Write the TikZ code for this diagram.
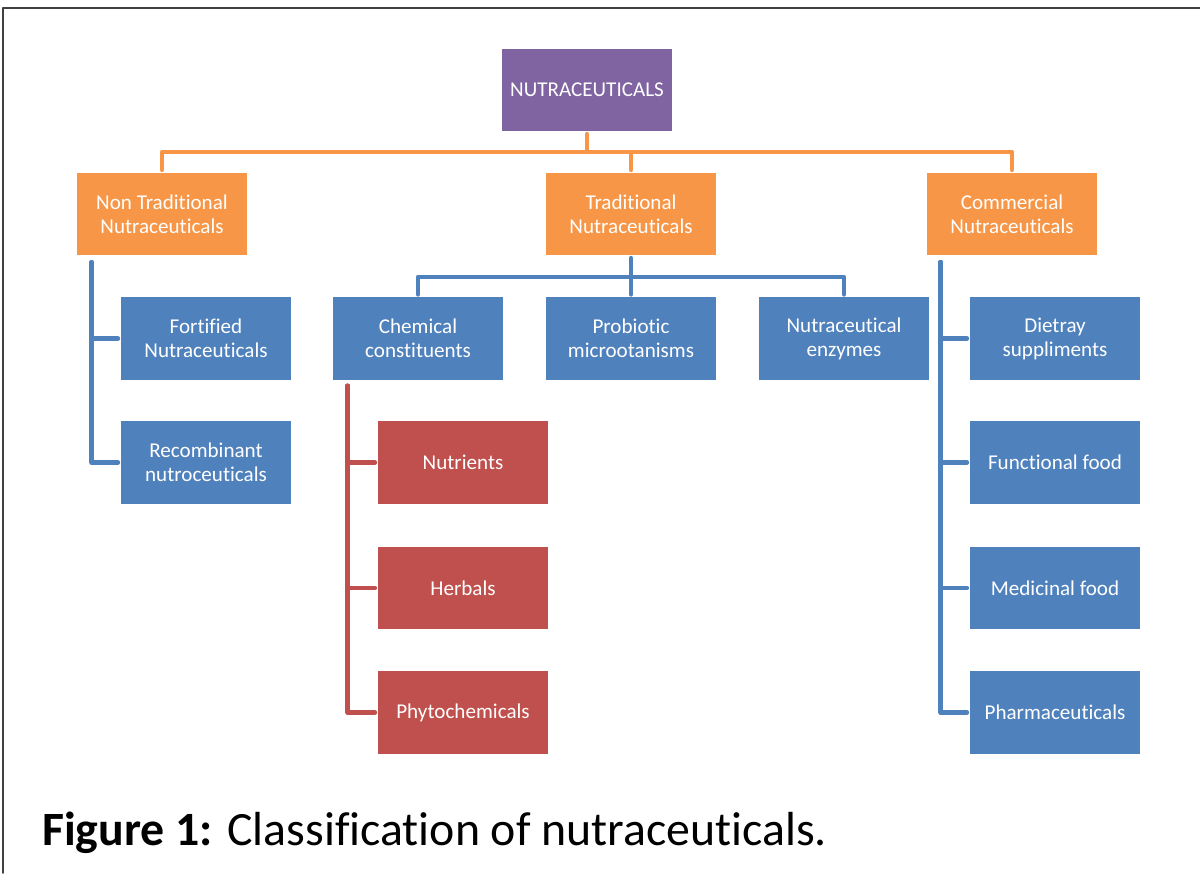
\documentclass[tikz,border=0pt]{standalone}
\usepackage{fontspec}
\setmainfont[Ligatures=NoCommon]{Carlito}
\definecolor{nutpurple}{HTML}{8064A2}
\definecolor{nutorange}{HTML}{F79646}
\definecolor{nutblue}{HTML}{4F81BD}
\definecolor{nutred}{HTML}{C0504D}
\begin{document}
\begin{tikzpicture}[x=0.025cm, y=-0.025cm, line join=round, line cap=round,
		box/.style={minimum width=4.25cm, minimum height=2.05cm, inner sep=0pt, align=center, text=white, font=\fontsize{15}{17}\selectfont},
		link/.style={line width=3.2pt, shorten >=2pt}]
	\useasboundingbox (0,0) rectangle (1200,873);
	\draw[line width=1.2pt, black!75] (3,873)--(3,8)--(1200,8);
	% boxes
	\node[box, fill=nutpurple] (root) at (587,90) {NUTRACEUTICALS};
	\foreach \n/\x/\t in {nontrad/162/{Non Traditional\\Nutraceuticals}, trad/631/{Traditional\\Nutraceuticals}, comm/1012/{Commercial\\Nutraceuticals}}
		\node[box, fill=nutorange] (\n) at (\x,214) {\t};
	\foreach \n/\x/\y/\t in {fort/206/338.5/{Fortified\\Nutraceuticals}, recomb/206/462.5/{Recombinant\\nutroceuticals},
		chem/418/338.5/{Chemical\\constituents}, prob/631/338.5/{Probiotic\\microotanisms}, enz/844/338.5/{Nutraceutical\\enzymes},
		diet/1055/338.5/{Dietray\\suppliments}, func/1055/462.5/{Functional food}, med/1055/588/{Medicinal food}, pharm/1055/712.5/{Pharmaceuticals}}
		\node[box, fill=nutblue] (\n) at (\x,\y) {\t};
	\foreach \n/\y/\t in {nutr/462.5/{Nutrients}, herb/588/{Herbals}, phyto/712.5/{Phytochemicals}}
		\node[box, fill=nutred] (\n) at (463,\y) {\t};
	% connectors
	\coordinate (topbus) at (587,152);
	\coordinate (midbus) at (631,277);
	\draw[link, nutorange, shorten <=2pt, shorten >=0pt] (root.south) -- (topbus);
	\foreach \n in {nontrad,trad,comm}\draw[link, nutorange] (topbus) -| (\n.north);
	\draw[link, nutblue, shorten <=2pt, shorten >=0pt] (trad.south) -- (midbus);
	\foreach \n in {chem,prob,enz}\draw[link, nutblue] (midbus) -| (\n.north);
	\foreach \n in {fort,recomb}\draw[link, nutblue] ([shift={(15,7)}]nontrad.south west) |- (\n.west);
	\foreach \n in {diet,func,med,pharm}\draw[link, nutblue] ([shift={(14,7)}]comm.south west) |- (\n.west);
	\foreach \n in {nutr,herb,phyto}\draw[link, nutred] ([shift={(15,6)}]chem.south west) |- (\n.west);
	% caption
	\node[anchor=base west, inner sep=0pt, font=\fontsize{34}{40}\selectfont] (caption) at (42,845) {\textbf{Figure 1:} Classification of nutraceuticals.};
\end{tikzpicture}
\end{document}
